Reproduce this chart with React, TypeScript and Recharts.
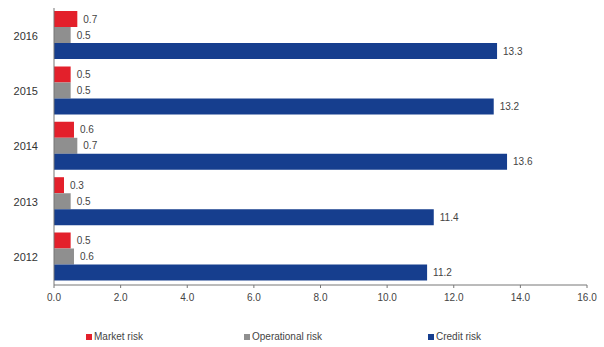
import { BarChart, Bar, XAxis, YAxis, Legend, LabelList } from "recharts";

const YEARS = ["2016", "2015", "2014", "2013", "2012"];
const MARKET = [0.7, 0.5, 0.6, 0.3, 0.5];
const OPERATIONAL = [0.5, 0.5, 0.7, 0.5, 0.6];
const CREDIT = [13.3, 13.2, 13.6, 11.4, 11.2];
const X_TICKS = [0, 2, 4, 6, 8, 10, 12, 14, 16];

const SERIES = [
  { key: "market", name: "Market risk", color: "#e3202b" },
  { key: "operational", name: "Operational risk", color: "#8f8f8f" },
  { key: "credit", name: "Credit risk", color: "#163e8e" },
];

const data = YEARS.map((year, i) => ({
  year,
  market: MARKET[i],
  operational: OPERATIONAL[i],
  credit: CREDIT[i],
}));

const fmt = (v: any) => Number(v).toFixed(1);

// legend items sit at uneven spots in the original
const LEGEND_X = [86, 244, 428];

const renderLegend = () => (
  <div style={{ position: "relative", height: 16, fontSize: 10, color: "#444" }}>
    {SERIES.map((s, i) => (
      <div
        key={s.key}
        style={{ position: "absolute", left: LEGEND_X[i], top: 0, display: "flex", alignItems: "center" }}
      >
        <span style={{ width: 6, height: 6, background: s.color, marginRight: 2, display: "inline-block" }} />
        {s.name}
      </div>
    ))}
  </div>
);

export default function App() {
  return (
    <div style={{ position: "absolute", left: 0, top: 0, width: 604, height: 347, background: "#fff", fontFamily: "'Liberation Sans', Arial, sans-serif" }}>
      <BarChart
        width={604}
        height={347}
        data={data}
        layout="vertical"
        margin={{ top: 8, right: 17, left: 0, bottom: 0 }}
        barCategoryGap={3}
        barGap={0}
      >
        <XAxis
          type="number"
          domain={[0, 16]}
          ticks={X_TICKS}
          tickFormatter={fmt}
          tick={{ fontSize: 10, fill: "#444" }}
          stroke="#777"
          tickSize={3}
          tickMargin={6}
          height={46}
          interval={0}
        />
        <YAxis
          type="category"
          dataKey="year"
          width={54}
          tick={{ fontSize: 11, fill: "#333" }}
          tickLine={false}
          stroke="#777"
          tickMargin={10}
        />
        <Legend verticalAlign="bottom" height={16} content={renderLegend} wrapperStyle={{ left: 0, width: 604 }} />
        {SERIES.map((s) => (
          <Bar key={s.key} dataKey={s.key} name={s.name} fill={s.color} isAnimationActive={false}>
            <LabelList dataKey={s.key} position="right" offset={6} formatter={fmt} style={{ fontSize: 10, fill: "#444" }} />
          </Bar>
        ))}
      </BarChart>
    </div>
  );
}
